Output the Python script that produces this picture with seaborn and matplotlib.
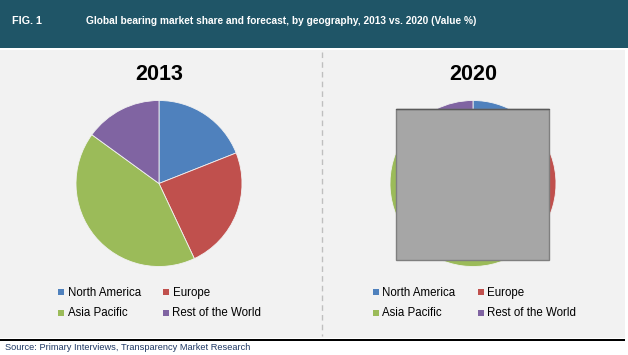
import matplotlib
matplotlib.use("Agg")
import matplotlib.pyplot as plt
from matplotlib.patches import Rectangle
from matplotlib.lines import Line2D
import seaborn as sns

sns.set_style("white")
plt.rcParams['font.family'] = ['Liberation Sans', 'DejaVu Sans']

# ---- data ----
regions = ["North America", "Europe", "Asia Pacific", "Rest of the World"]
share_2013 = [19, 24, 42, 15]
share_2020 = [18, 23, 44, 15]
years = ["2013", "2020"]
colors = ["#4F81BD", "#C0504D", "#9BBB59", "#8064A2"]
fig_label = "FIG. 1"
title = "Global bearing market share and forecast, by geography, 2013 vs. 2020 (Value %)"
source = "Source: Primary Interviews, Transparency Market Research"

W, H = 628, 355
fig = plt.figure(figsize=(W / 100, H / 100), dpi=100)
fig.patch.set_facecolor("white")


def px(x, y):
    return x / W, 1 - y / H


def rect(x0, y0, x1, y1, **kw):
    fig.patches.append(Rectangle((x0 / W, 1 - y1 / H), (x1 - x0) / W, (y1 - y0) / H,
                                 transform=fig.transFigure, figure=fig, **kw))

# header and panel
rect(0, 0, W, 48, facecolor="#1F5567", edgecolor="none", zorder=-2)
rect(0, 50, 625, 338, facecolor="#F2F2F2", edgecolor="none", zorder=-2)
rect(0, 338.5, 625, 341, facecolor="black", edgecolor="none", zorder=-2)

fig.text(*px(12, 21), fig_label, color="white", fontsize=7.8, fontweight="bold",
         va="center", ha="left")
fig.text(*px(86, 21), title, color="white", fontsize=7.3, fontweight="bold",
         va="center", ha="left")

# divider
fig.lines.append(Line2D([322 / W, 322 / W], [1 - 52 / H, 1 - 336 / H],
                        transform=fig.transFigure, color="#BFBFBF", lw=1,
                        linestyle=(0, (4, 3)), zorder=-1))

centers = [(159, 183.5), (473, 183.5)]
R = 83
for (cx, cy), yr, vals in zip(centers, years, [share_2013, share_2020]):
    ax = fig.add_axes([(cx - R) / W, (H - cy - R) / H, 2 * R / W, 2 * R / H])
    ax.pie(vals, colors=colors, startangle=90, counterclock=False, radius=1,
           wedgeprops=dict(linewidth=0.6, edgecolor="#F2F2F2"))
    ax.set_xlim(-1.0, 1.0)
    ax.set_ylim(-1.0, 1.0)
    ax.set_aspect("equal")
    ax.axis("off")
    fig.text(*px(cx, 75), yr, fontsize=15.5, fontweight="bold", ha="center",
             va="center", color="black")

# grey box over the 2020 pie
rect(396, 109, 549, 260, facecolor="#A6A6A6", edgecolor="#7F7F7F", lw=1, zorder=5)
fig.lines.append(Line2D([396 / W, 549 / W], [1 - 109 / H, 1 - 109 / H],
                        transform=fig.transFigure, color="#5A5A5A", lw=1, zorder=6))

# legends
legend_layouts = [
    [(58, 292.3), (163, 292.3), (58, 312.7), (163, 312.7)],
    [(372.5, 292.3), (477.5, 292.3), (372.5, 312.7), (477.5, 312.7)],
]
for layout in legend_layouts:
    for (mx, my), name, col in zip(layout, regions, colors):
        rect(mx, my - 3, mx + 6, my + 3, facecolor=col, edgecolor="none", zorder=3)
        fig.text(*px(mx + 9.5, my + 0.5), name, fontsize=8.3, ha="left", va="center",
                 color="black")

fig.text(*px(5, 347.5), source, fontsize=6.7, ha="left", va="center", color="#1F3864")

fig.savefig("out.png", dpi=100, facecolor=fig.get_facecolor())
